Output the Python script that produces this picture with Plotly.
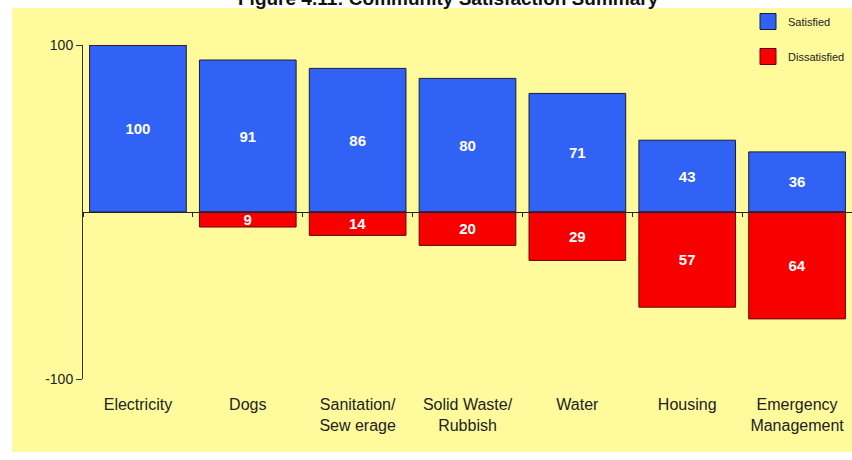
import plotly.graph_objects as go

categories = ["Electricity", "Dogs", "Sanitation/<br>Sew erage", "Solid Waste/<br>Rubbish",
              "Water", "Housing", "Emergency<br>Management"]
satisfied = [100, 91, 86, 80, 71, 43, 36]
dissatisfied = [0, 9, 14, 20, 29, 57, 64]
y_ticks = [-100, 100]
y_tick_labels = ["-100", "100"]
title_text = "Figure 4.11: Community Satisfaction Summary"

BLUE = "#3162F6"
RED = "#F80000"
YELLOW = "#FFFB9C"

fig = go.Figure()
fig.add_trace(go.Bar(
    x=categories, y=satisfied, name="Satisfied",
    marker=dict(color=BLUE, line=dict(color="#1A1A3A", width=1)),
    text=[str(v) for v in satisfied], textposition="inside", insidetextanchor="middle",
    textangle=0,
    textfont=dict(color="white", size=15, family="Liberation Sans", weight="bold"),
    constraintext="none", showlegend=False, hoverinfo="skip"))
fig.add_trace(go.Bar(
    x=categories, y=[-v for v in dissatisfied], name="Dissatisfied",
    marker=dict(color=RED, line=dict(color="#6A0000", width=1)),
    text=[str(v) if v else "" for v in dissatisfied], textposition="inside", insidetextanchor="middle",
    textangle=0,
    textfont=dict(color="white", size=15, family="Liberation Sans", weight="bold"),
    constraintext="none", showlegend=False, hoverinfo="skip"))
# dummy trace so the zero-line axis renders
fig.add_trace(go.Scatter(x=categories, y=[None] * len(categories), xaxis="x2",
                         mode="markers", showlegend=False, hoverinfo="skip"))
# legend proxies
fig.add_trace(go.Scatter(x=[None], y=[None], mode="markers", name="Satisfied", legendgroup="a",
                         marker=dict(symbol="square", size=22, color=BLUE,
                                     line=dict(color="#1A1A3A", width=1))))
fig.add_trace(go.Scatter(x=[None], y=[None], mode="markers", name="Dissatisfied", legendgroup="b",
                         marker=dict(symbol="square", size=22, color=RED,
                                     line=dict(color="#6A0000", width=1))))

T, B, L = 45, 81, 83
H = 460 - T - B
W = 852 - L

def px_x(p):
    return (p - L) / W

def px_y(p):
    return (460 - B - p) / H

fig.add_shape(type="rect", xref="paper", yref="paper", layer="below",
              x0=px_x(12), x1=px_x(860), y0=px_y(452), y1=px_y(8),
              fillcolor=YELLOW, line=dict(width=0))

fig.add_annotation(text="<b>" + title_text + "</b>", xref="paper", yref="paper",
                   x=px_x(448), y=px_y(-1), xanchor="center", yanchor="middle",
                   showarrow=False, font=dict(size=19, family="Liberation Sans", color="#111"))

fig.update_layout(
    width=852, height=460,
    margin=dict(l=L, r=0, t=T, b=B),
    paper_bgcolor="white", plot_bgcolor="rgba(0,0,0,0)",
    barmode="relative", bargap=0.12,
    font=dict(family="Liberation Sans", color="#222"),
    showlegend=True,
    legend=dict(x=px_x(748), y=px_y(7), xanchor="left", yanchor="top",
                bgcolor="rgba(0,0,0,0)", traceorder="grouped", tracegroupgap=16,
                font=dict(size=11, color="#222")),
    xaxis=dict(type="category", categoryorder="array", categoryarray=categories,
               range=[-0.5, len(categories) - 0.5], showline=False, ticks="",
               showgrid=False, zeroline=False, ticklabelstandoff=14,
               tickfont=dict(size=16, color="#222")),
    xaxis2=dict(type="category", categoryorder="array", categoryarray=categories,
                range=[-0.5, len(categories) - 0.5], overlaying="x", anchor="free",
                position=0.5, side="bottom", showline=True, linecolor="#222", linewidth=1,
                ticks="outside", tickson="boundaries", ticklen=4, tickcolor="#222",
                showticklabels=False, showgrid=False, zeroline=False),
    yaxis=dict(range=[-100, 100], tickvals=y_ticks, ticktext=y_tick_labels, ticks="outside",
               ticklen=6, tickcolor="#333", showline=True, linecolor="#333", linewidth=1,
               showgrid=False, zeroline=False, tickfont=dict(size=14, color="#222")),
)

fig.write_html("out.html", config={"displayModeBar": False},
               post_script="document.body.style.margin='0';")
